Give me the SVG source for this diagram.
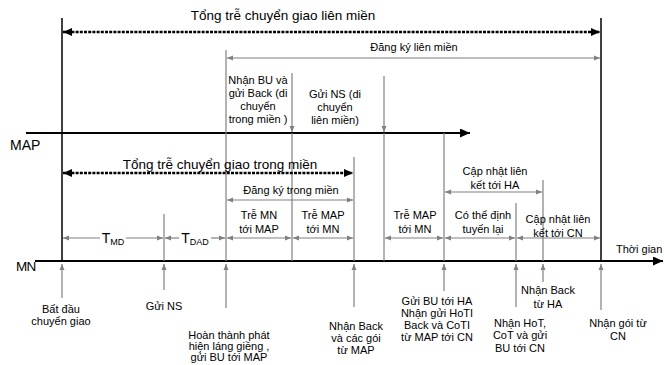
<svg xmlns="http://www.w3.org/2000/svg" width="664" height="365" viewBox="0 0 664 365">
<defs>
<style>
text{font-family:"Liberation Sans",Arial,sans-serif;fill:#000;font-size:11px}
.t{text-anchor:middle}
.big{font-size:13.5px}
.g{stroke:#808080;stroke-width:1.2;fill:none}
.k{stroke:#000;stroke-width:1.5;fill:none}
.ax{stroke:#000;stroke-width:2;fill:none}
.dash{stroke:#000;stroke-width:2.5;stroke-dasharray:3 1.2;fill:none}
</style>
<marker id="ga" viewBox="0 0 6 6" refX="6" refY="3" markerWidth="6" markerHeight="6" markerUnits="userSpaceOnUse" orient="auto-start-reverse"><path d="M0,0.5 L6,3 L0,5.5 z" fill="#808080"/></marker>
<marker id="ka" viewBox="0 0 9 8" refX="9" refY="4" markerWidth="9" markerHeight="8" markerUnits="userSpaceOnUse" orient="auto-start-reverse"><path d="M0,0 L9,4 L0,8 z" fill="#000"/></marker>
<marker id="kb" viewBox="0 0 10 9" refX="10" refY="4.5" markerWidth="10" markerHeight="9" markerUnits="userSpaceOnUse" orient="auto"><path d="M0,0 L10,4.5 L0,9 z" fill="#000"/></marker>
</defs>

<g id="connectors">
  <line class="ax" x1="26" y1="133" x2="470" y2="133" marker-end="url(#kb)"/>
  <line class="ax" x1="35" y1="261" x2="663" y2="261" marker-end="url(#kb)"/>
  <line class="k" x1="62" y1="18" x2="62" y2="261"/>
  <line class="k" x1="601" y1="18" x2="601" y2="261"/>
  <line class="g" x1="164" y1="214" x2="164" y2="261"/>
  <line class="g" x1="226" y1="50" x2="226" y2="261"/>
  <line class="g" x1="292" y1="73" x2="292" y2="132" marker-end="url(#ga)"/>
  <line class="g" x1="292" y1="133" x2="292" y2="261"/>
  <line class="g" x1="354" y1="157" x2="354" y2="261"/>
  <line class="g" x1="384" y1="76" x2="384" y2="132" marker-end="url(#ga)"/>
  <line class="g" x1="384" y1="133" x2="384" y2="261"/>
  <line class="g" x1="444" y1="133" x2="444" y2="261"/>
  <line class="g" x1="516" y1="203" x2="516" y2="261"/>
  <line class="g" x1="543" y1="180" x2="543" y2="261"/>
  <line class="dash" x1="63" y1="32" x2="600" y2="32" marker-start="url(#ka)" marker-end="url(#ka)"/>
  <line class="dash" x1="63" y1="173" x2="353" y2="173" marker-start="url(#ka)" marker-end="url(#ka)"/>
  <line class="g" x1="227" y1="58" x2="600" y2="58" marker-start="url(#ga)" marker-end="url(#ga)"/>
  <line class="g" x1="227" y1="200" x2="353" y2="200" marker-start="url(#ga)" marker-end="url(#ga)"/>
  <line class="g" x1="445" y1="192" x2="542" y2="192" marker-start="url(#ga)" marker-end="url(#ga)"/>
  <line class="g" x1="63" y1="238" x2="100" y2="238" marker-start="url(#ga)"/>
  <line class="g" x1="126" y1="238" x2="163" y2="238" marker-end="url(#ga)"/>
  <line class="g" x1="165" y1="238" x2="179" y2="238" marker-start="url(#ga)"/>
  <line class="g" x1="211" y1="238" x2="225" y2="238" marker-end="url(#ga)"/>
  <line class="g" x1="227" y1="238" x2="291" y2="238" marker-start="url(#ga)" marker-end="url(#ga)"/>
  <line class="g" x1="293" y1="238" x2="353" y2="238" marker-start="url(#ga)" marker-end="url(#ga)"/>
  <line class="g" x1="385" y1="238" x2="443" y2="238" marker-start="url(#ga)" marker-end="url(#ga)"/>
  <line class="g" x1="445" y1="238" x2="515" y2="238" marker-start="url(#ga)" marker-end="url(#ga)"/>
  <line class="g" x1="517" y1="238" x2="600" y2="238" marker-start="url(#ga)" marker-end="url(#ga)"/>
  <line class="g" x1="62" y1="298" x2="62" y2="264" marker-end="url(#ga)"/>
  <line class="g" x1="164" y1="290" x2="164" y2="264" marker-end="url(#ga)"/>
  <line class="g" x1="226" y1="308" x2="226" y2="264" marker-end="url(#ga)"/>
  <line class="g" x1="354" y1="307" x2="354" y2="264" marker-end="url(#ga)"/>
  <line class="g" x1="444" y1="291" x2="444" y2="264" marker-end="url(#ga)"/>
  <line class="g" x1="516" y1="307" x2="516" y2="264" marker-end="url(#ga)"/>
  <line class="g" x1="543" y1="282" x2="543" y2="264" marker-end="url(#ga)"/>
  <line class="g" x1="601" y1="310" x2="601" y2="264" marker-end="url(#ga)"/>
</g>

<g id="axis-labels">
  <text x="10" y="150" style="font-size:14px">MAP</text>
  <text x="16" y="271" style="font-size:13.5px;letter-spacing:-0.8px">MN</text>
  <text x="616" y="253">Thời gian</text>
</g>

<g id="total-inter"><text class="t big" x="283" y="20">Tổng trễ chuyển giao liên miền</text></g>
<g id="total-intra"><text class="t big" x="220" y="169">Tổng trễ chuyển giao trong miền</text></g>
<g id="reg-inter"><text class="t" x="414" y="51">Đăng ký liên miền</text></g>
<g id="reg-intra"><text class="t" x="291" y="194">Đăng ký trong miền</text></g>

<g id="map-recv-bu">
  <text class="t" x="258" y="84">Nhận BU và</text>
  <text class="t" x="258" y="97">gửi Back (di</text>
  <text class="t" x="258" y="110">chuyển</text>
  <text class="t" x="258" y="123">trong miền )</text>
</g>
<g id="map-send-ns">
  <text class="t" x="335" y="98">Gửi NS (di</text>
  <text class="t" x="335" y="111">chuyển</text>
  <text class="t" x="335" y="124">liên  miền)</text>
</g>

<g id="t-md"><text class="t" x="113" y="243" style="font-size:14px">T<tspan style="font-size:9px" dy="2">MD</tspan></text></g>
<g id="t-dad"><text class="t" x="195" y="243" style="font-size:14px">T<tspan style="font-size:9px" dy="2">DAD</tspan></text></g>

<g id="mn-map"><text class="t" x="259" y="219">Trễ MN</text><text class="t" x="259" y="233">tới MAP</text></g>
<g id="map-mn-1"><text class="t" x="323" y="219">Trễ MAP</text><text class="t" x="323" y="233">tới MN</text></g>
<g id="map-mn-2"><text class="t" x="415" y="219">Trễ MAP</text><text class="t" x="415" y="233">tới MN</text></g>
<g id="reroute"><text class="t" x="483" y="219">Có thể định</text><text class="t" x="483" y="233">tuyến lại</text></g>
<g id="bu-ha"><text class="t" x="495" y="175">Cập nhật liên</text><text class="t" x="495" y="189">kết tới HA</text></g>
<g id="bu-cn"><text class="t" x="558" y="223">Cập nhật liên</text><text class="t" x="558" y="237">kết tới CN</text></g>

<g id="ev-start"><text class="t" x="61" y="313">Bất đầu</text><text class="t" x="61" y="325">chuyển giao</text></g>
<g id="ev-ns"><text class="t" x="164" y="310">Gửi NS</text></g>
<g id="ev-nd">
  <text class="t" x="229" y="339">Hoàn thành phát</text>
  <text class="t" x="229" y="350">hiện láng giềng ,</text>
  <text class="t" x="229" y="361">gửi BU tới MAP</text>
</g>
<g id="ev-back">
  <text class="t" x="356" y="330">Nhận Back</text>
  <text class="t" x="356" y="342">và các gói</text>
  <text class="t" x="356" y="354">từ MAP</text>
</g>
<g id="ev-bu-ha">
  <text class="t" x="437" y="305">Gửi BU tới HA</text>
  <text class="t" x="437" y="317">Nhận gửi HoTI</text>
  <text class="t" x="437" y="329">Back và CoTI</text>
  <text class="t" x="437" y="341">từ MAP tới CN</text>
</g>
<g id="ev-hot">
  <text class="t" x="520" y="327">Nhận HoT,</text>
  <text class="t" x="520" y="339">CoT và gửi</text>
  <text class="t" x="520" y="352">BU tới CN</text>
</g>
<g id="ev-back-ha"><text class="t" x="548" y="294">Nhận Back</text><text class="t" x="548" y="308">từ HA</text></g>
<g id="ev-cn"><text class="t" x="618" y="327">Nhận gói từ</text><text class="t" x="618" y="340">CN</text></g>
</svg>
